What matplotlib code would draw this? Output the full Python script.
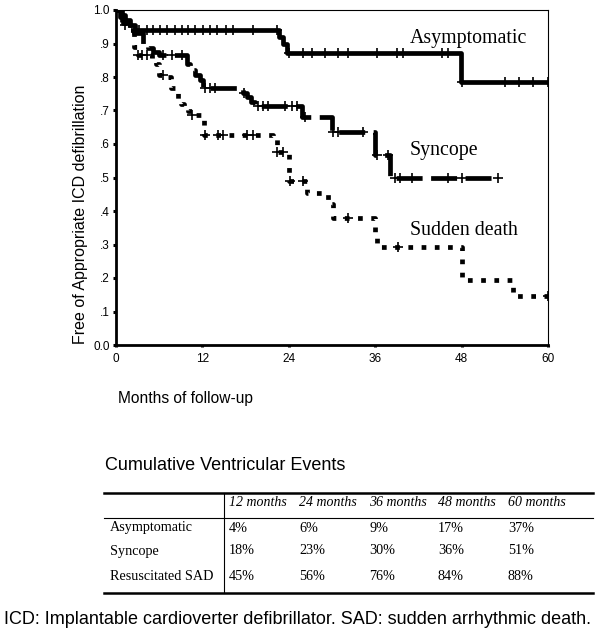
import matplotlib.pyplot as plt
import numpy as np
from matplotlib.lines import Line2D

# Kaplan-Meier curves (months, survival)
asym_t = [0, 0.8, 1.3, 1.9, 2.6, 22.6, 23.2, 23.8, 47.9]
asym_s = [1.0, 0.985, 0.97, 0.955, 0.94, 0.92, 0.90, 0.873, 0.785]
asym_cens = [3.2, 4.3, 5.1, 6.1, 7.1, 8.2, 9.2, 10.0, 11.0, 12.1, 13.0, 14.0, 15.3,
             16.3, 19.0, 22.3, 24.0, 26.0, 27.2, 29.0, 30.8, 32.2, 36.2, 39.0,
             39.9, 45.3, 46.1, 48.1, 54.0, 56.0, 57.9, 60.0]

sync_t = [0, 0.5, 1.0, 1.5, 2.0, 2.5, 3.7, 4.5, 5.2, 6.0, 9.8, 10.3, 11.0, 11.6,
          12.1, 17.6, 18.2, 18.8, 19.3, 25.8, 30.0, 36.0, 38.0]
sync_s = [1.0, 0.98, 0.96, 0.95, 0.94, 0.93, 0.90, 0.887, 0.875, 0.865, 0.84,
          0.82, 0.806, 0.79, 0.767, 0.752, 0.74, 0.725, 0.713, 0.68, 0.636,
          0.567, 0.50]
sync_cens = [6.5, 7.8, 9.2, 12.4, 13.0, 13.8, 17.8, 19.7, 20.4, 21.1, 23.5, 24.4,
             25.1, 26.2, 30.2, 30.8, 34.3, 36.2, 37.8, 38.7, 39.4, 41.1, 46.1,
             48.0, 53.0]

sd_t = [0, 0.4, 0.9, 2.5, 3.0, 5.0, 5.5, 6.0, 7.2, 7.7, 8.2, 8.6, 9.0, 9.5, 10.0,
        10.5, 12.0, 12.2, 21.8, 22.3, 24.0, 26.5, 29.0, 29.4, 30.2, 36.0, 36.2,
        48.0, 55.2]
sd_s = [1.0, 0.98, 0.955, 0.89, 0.866, 0.85, 0.84, 0.806, 0.80, 0.767, 0.76,
        0.735, 0.72, 0.71, 0.70, 0.687, 0.68, 0.627, 0.62, 0.576, 0.49, 0.454,
        0.45, 0.42, 0.38, 0.335, 0.293, 0.195, 0.147]
sd_cens = [1.2, 3.0, 3.6, 4.3, 6.5, 10.5, 12.4, 14.2, 14.9, 18.2, 19.0, 22.4,
           23.2, 24.1, 26.0, 32.2, 39.2, 60.0]

# table of cumulative events
col_labels = ['12 months', '24 months', '36 months', '48 months', '60 months']
row_labels = ['Asymptomatic', 'Syncope', 'Resuscitated SAD']
events = [[4, 6, 9, 17, 37],
          [18, 23, 30, 36, 51],
          [45, 56, 76, 84, 88]]

W, H = 600, 635
fig = plt.figure(figsize=(W / 100, H / 100), dpi=100)
ax = fig.add_axes([116 / W, 1 - 345 / H, 432 / W, 335 / H])

sans = 'Liberation Sans'
serif = 'Liberation Serif'


def step_val(t, s, x):
    i = np.searchsorted(t, x, side='right') - 1
    return np.array(s)[i]


def km(t, s, end, ls, cens):
    tt = list(t) + [end]
    ss = list(s) + [s[-1]]
    ax.step(tt, ss, where='post', color='black', lw=3.4, linestyle=ls,
            solid_capstyle='butt', dash_capstyle='butt')
    cens = np.array(cens)
    ax.plot(cens, step_val(t, s, cens), linestyle='none', marker='+',
            color='black', ms=7.5, mew=1.2)


km(asym_t, asym_s, 60, '-', asym_cens)
km(sync_t, sync_s, 53, (0, (5.5, 1.8)), sync_cens)
km(sd_t, sd_s, 60, (0, (1, 1.8)), sd_cens)

ax.set_xlim(0, 60)
ax.set_ylim(0, 1.0)
ax.set_xticks([0, 12, 24, 36, 48, 60])
ax.set_yticks(np.arange(0, 1.01, 0.1))
ax.set_yticklabels(['0.0', '.1', '.2', '.3', '.4', '.5', '.6', '.7', '.8', '.9', '1.0'])
for lab in ax.get_xticklabels() + ax.get_yticklabels():
    lab.set_family(sans)
    lab.set_fontsize(8.5)
ax.tick_params(axis='y', direction='out', length=2.5, width=2.2, pad=2)
ax.tick_params(axis='x', direction='out', length=1.5, width=2.2, pad=4)
ax.spines['left'].set_linewidth(2)
ax.spines['bottom'].set_linewidth(2)
ax.spines['top'].set_linewidth(0.8)
ax.spines['right'].set_linewidth(0.8)

fig.text(81 / W, 1 - 214 / H, 'Free of Appropriate ICD defibrillation', family=sans,
         fontsize=11.5, rotation=90, ha='center', va='center')
fig.text(118 / W, 1 - 398 / H, 'Months of follow-up', family=sans, fontsize=11.2,
         ha='left', va='center')

ax.text(40.8, 0.916, 'Asymptomatic', family=serif, fontsize=14.3, va='center')
ax.text(40.8, 0.582, 'Syncope', family=serif, fontsize=14.3, va='center')
ax.text(40.8, 0.343, 'Sudden death', family=serif, fontsize=14.3, va='center')


# table below the chart, in pixel positions
def fx(px):
    return px / W


def fy(py):
    return 1 - py / H


fig.text(fx(105), fy(466), 'Cumulative Ventricular Events', family=sans,
         fontsize=13, ha='left', va='center')
fig.add_artist(Line2D([fx(104), fx(593)], [fy(493), fy(493)], color='black', lw=1.8))
fig.add_artist(Line2D([fx(104), fx(593)], [fy(518), fy(518)], color='black', lw=0.8))
fig.add_artist(Line2D([fx(104), fx(593)], [fy(593), fy(593)], color='black', lw=1.8))
fig.add_artist(Line2D([fx(224), fx(224)], [fy(493), fy(593)], color='black', lw=0.8))

col_x = [229, 299, 369, 438, 508]
row_y = [528, 551, 576]
for x, lab in zip(col_x, col_labels):
    fig.text(fx(x), fy(503), lab, family=serif, style='italic', fontsize=10,
             ha='left', va='center')
for y, lab, vals in zip(row_y, row_labels, events):
    fig.text(fx(110), fy(y), lab, family=serif, fontsize=10.2, ha='left', va='center')
    for x, v in zip(col_x, vals):
        fig.text(fx(x), fy(y), f'{v}%', family=serif, fontsize=10.2, ha='left',
                 va='center')

fig.text(fx(4), fy(619), 'ICD: Implantable cardioverter defibrillator. SAD: sudden arrhythmic death.',
         family=sans, fontsize=13, ha='left', va='center')

fig.savefig('out.png', dpi=100)
